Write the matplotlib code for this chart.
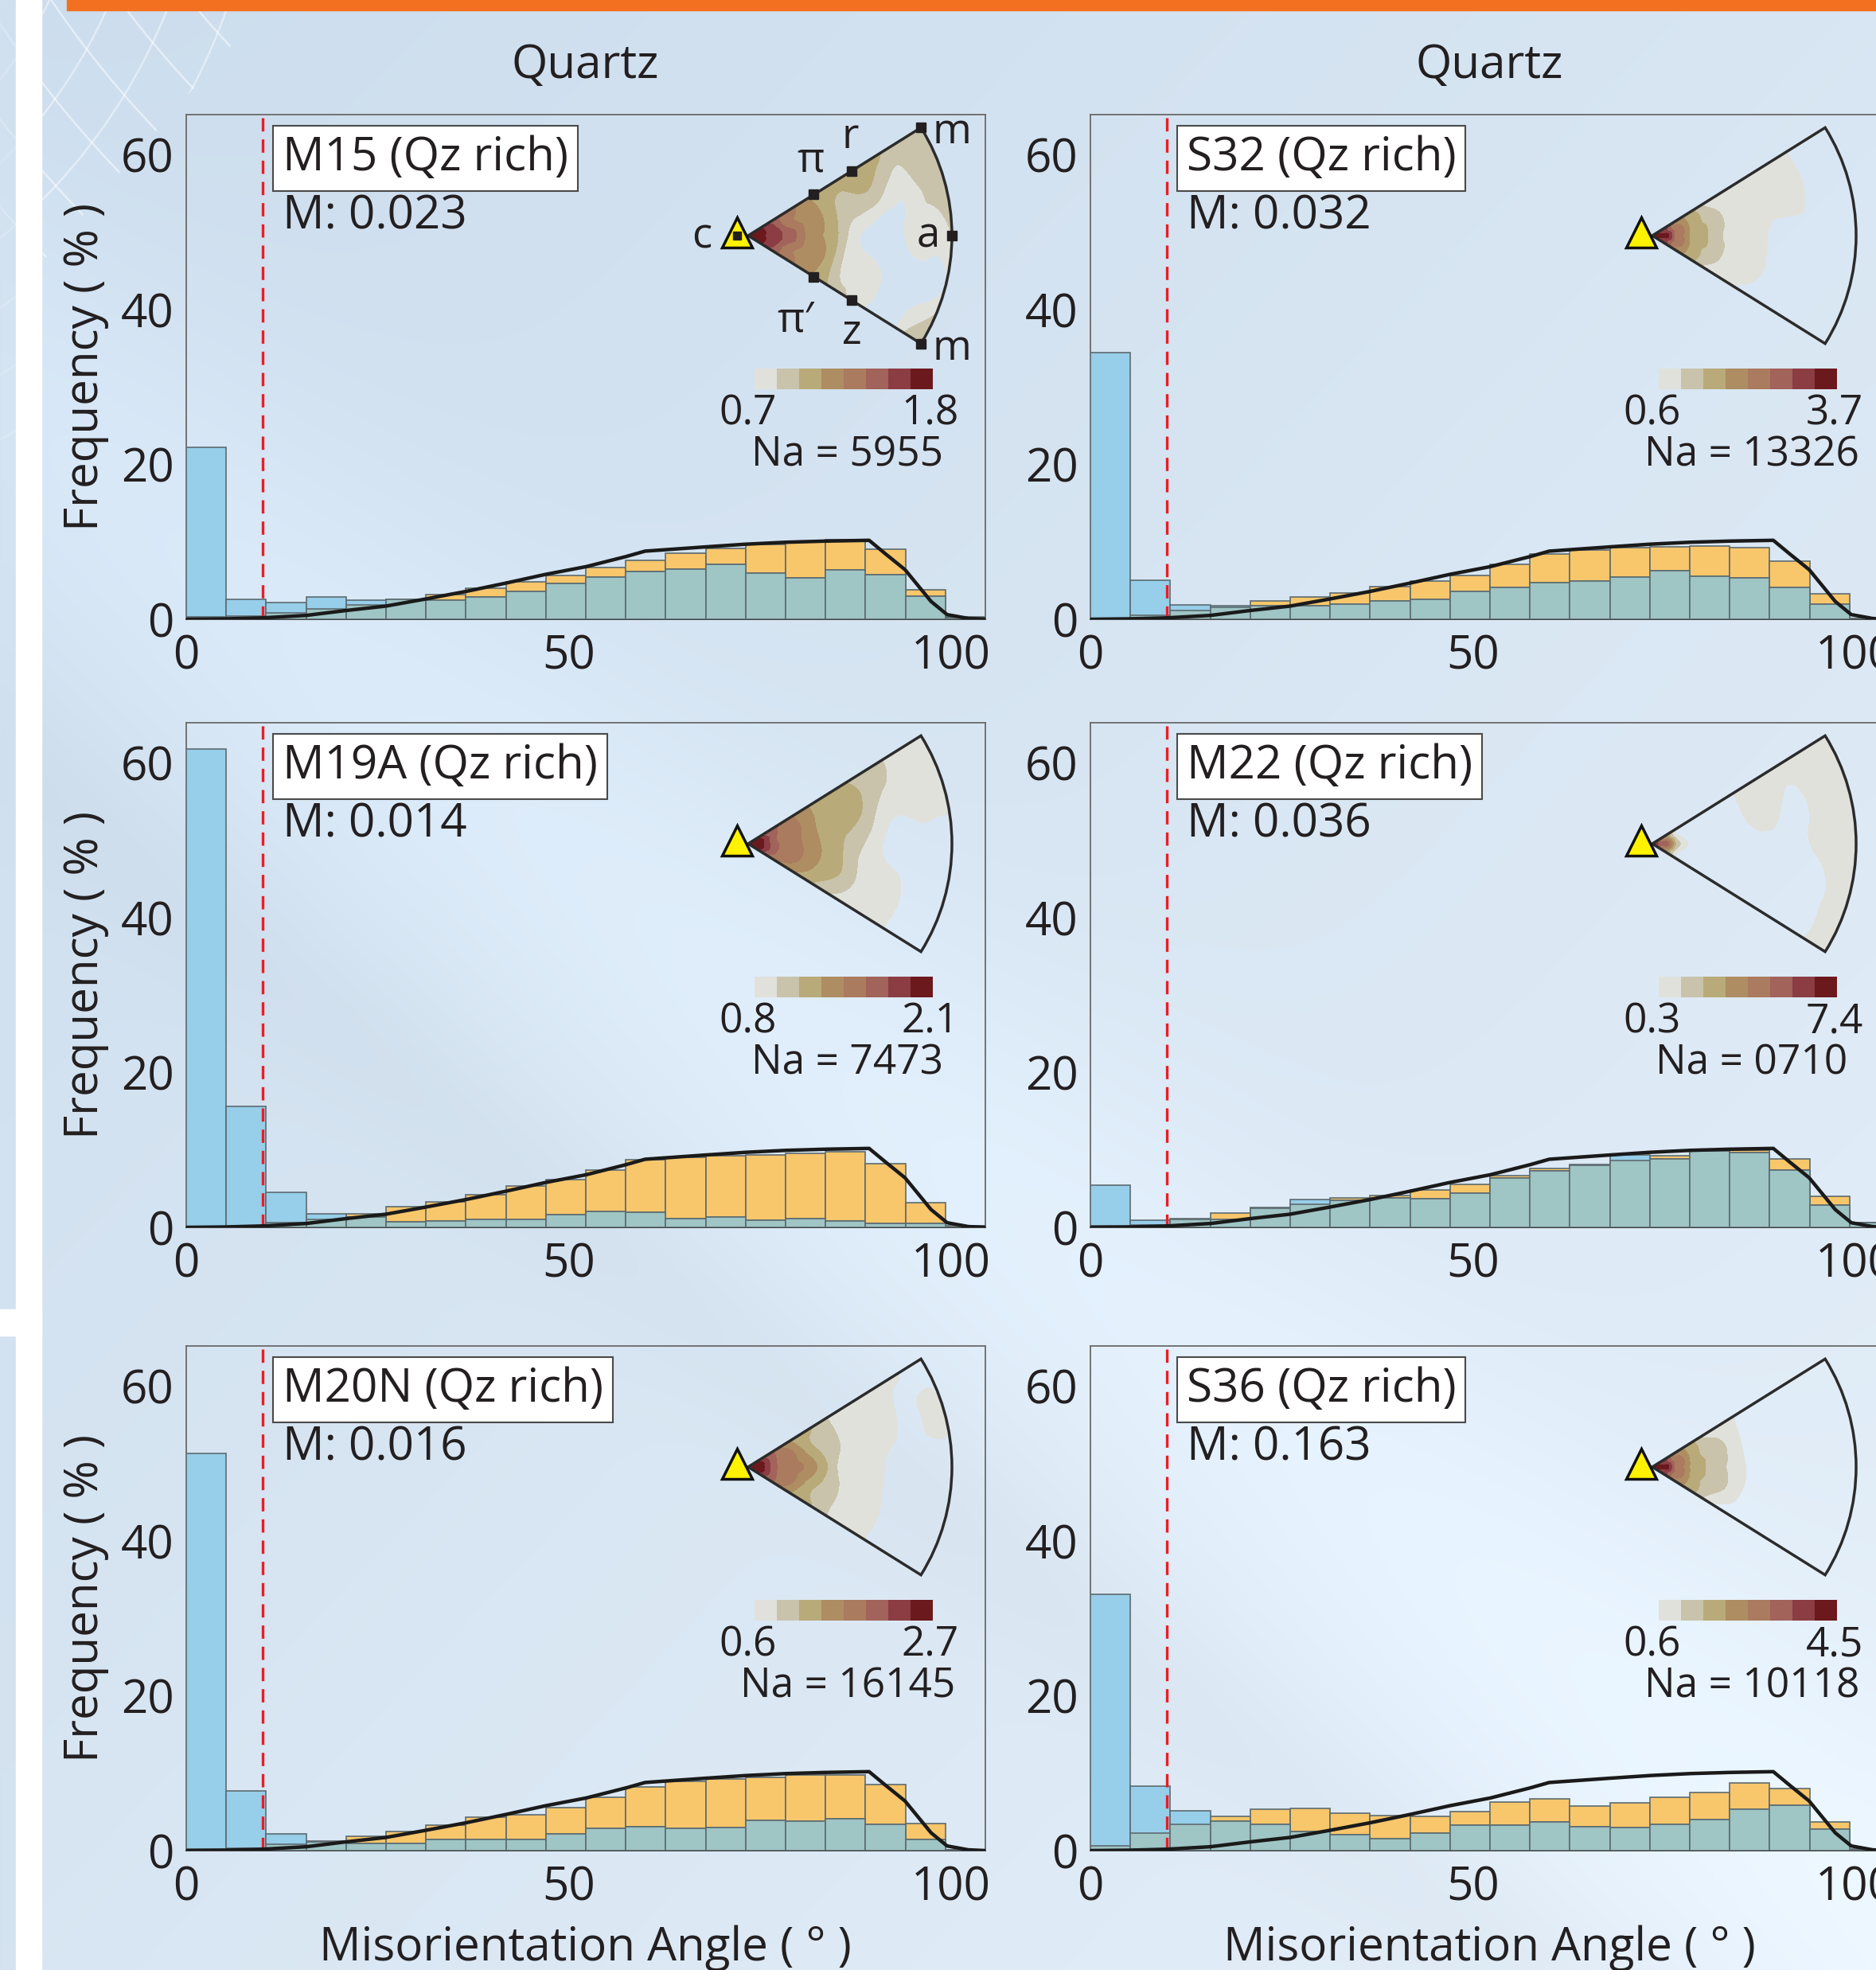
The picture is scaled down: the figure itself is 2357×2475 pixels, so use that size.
import numpy as np
import matplotlib
matplotlib.use('Agg')
import matplotlib.pyplot as plt
import matplotlib.tri as mtri
from matplotlib.patches import Wedge, Rectangle, Polygon
from matplotlib.colors import ListedColormap

plt.rcParams['font.family'] = ['Open Sans', 'DejaVu Sans']

W, H = 2357, 2475

# ---- data ----
n_bins = 20
x_max = 104.5

samples = ['M15 (Qz rich)', 'S32 (Qz rich)', 'M19A (Qz rich)',
           'M22 (Qz rich)', 'M20N (Qz rich)', 'S36 (Qz rich)']
m_index = ['M: 0.023', 'M: 0.032', 'M: 0.014', 'M: 0.036', 'M: 0.016', 'M: 0.163']
cbar_min = ['0.7', '0.6', '0.8', '0.3', '0.6', '0.6']
cbar_max = ['1.8', '3.7', '2.1', '7.4', '2.7', '4.5']
na_text = ['Na = 5955', 'Na = 13326', 'Na = 7473', 'Na = 0710', 'Na = 16145', 'Na = 10118']

# correlated (neighbour) misorientation, % per bin
corr = [
    [22.2, 2.6, 2.2, 2.9, 2.5, 2.6, 2.5, 2.9, 3.6, 4.6, 5.45, 6.2, 6.5, 7.05, 6.0, 5.3, 6.4, 5.75, 2.95, 0.2],
    [34.4, 5.0, 1.85, 1.7, 1.7, 1.7, 1.95, 2.35, 2.55, 3.65, 4.1, 4.75, 4.95, 5.5, 6.25, 5.6, 5.3, 4.1, 2.0, 0.1],
    [61.8, 15.6, 4.5, 1.7, 1.3, 0.7, 0.8, 1.0, 1.0, 1.6, 2.05, 2.0, 1.1, 1.35, 0.9, 1.1, 0.85, 0.5, 0.5, 0.05],
    [5.5, 0.9, 1.1, 1.0, 2.55, 3.6, 3.5, 3.85, 3.75, 4.45, 6.35, 7.35, 8.1, 9.4, 8.8, 9.85, 9.7, 7.45, 2.9, 0.6],
    [51.3, 7.7, 2.2, 1.25, 0.9, 0.9, 1.45, 1.4, 1.45, 2.2, 2.9, 3.1, 2.85, 2.95, 3.9, 3.85, 4.1, 3.35, 1.45, 0.1],
    [33.1, 8.3, 5.15, 3.8, 3.35, 2.45, 2.05, 1.5, 2.25, 3.25, 3.3, 3.75, 3.1, 3.0, 3.35, 4.05, 5.35, 5.9, 2.75, 0.1],
]
# uncorrelated (random pair) misorientation, % per bin
uncorr = [
    [0.3, 0.4, 0.8, 1.3, 1.9, 2.55, 3.15, 4.0, 4.8, 5.65, 6.7, 7.6, 8.5, 9.2, 9.7, 10.1, 10.3, 9.1, 3.8, 0.3],
    [0.15, 0.5, 1.1, 1.55, 2.4, 2.9, 3.4, 4.25, 4.9, 5.7, 7.05, 8.45, 8.9, 9.25, 9.35, 9.5, 9.25, 7.55, 3.3, 0.15],
    [0.05, 0.1, 0.6, 1.0, 1.7, 2.65, 3.25, 4.25, 5.3, 6.2, 7.4, 8.7, 9.1, 9.25, 9.4, 9.55, 9.75, 8.2, 3.15, 0.25],
    [0.2, 0.35, 1.0, 1.85, 2.45, 3.0, 3.85, 4.1, 4.8, 5.55, 6.65, 7.6, 8.05, 8.6, 9.3, 9.85, 10.0, 8.8, 4.0, 0.6],
    [0.2, 0.35, 0.8, 1.1, 1.8, 2.5, 3.25, 4.3, 4.65, 5.6, 6.9, 8.25, 8.9, 9.25, 9.45, 9.75, 9.8, 8.5, 3.45, 0.15],
    [0.6, 2.3, 3.35, 4.45, 5.3, 5.4, 4.8, 4.55, 4.4, 5.0, 6.25, 6.65, 5.75, 6.15, 6.9, 7.55, 8.75, 8.0, 3.7, 0.2],
]

# theoretical random (Mackenzie) curve for quartz
mack_x = [0, 5, 10, 15.7, 20.8, 26.1, 31.2, 36.6, 41.7, 47.0, 52.3, 57.5, 60.0, 67.9,
          73.2, 78.4, 83.6, 89.3, 91.5, 94.0, 97.4, 99.5, 102.3, 104.5]
mack_y = [0, 0.05, 0.18, 0.5, 1.12, 1.7, 2.6, 3.6, 4.65, 5.8, 6.8, 8.1, 8.8, 9.35,
          9.7, 9.95, 10.1, 10.2, 8.4, 6.4, 2.3, 0.6, 0.1, 0]

# inverse pole figures: contour class (0 = below lowest level, 8 = darkest)
# rows = distance from c (fraction of radius), cols = position across the sector (bottom edge -> top edge)
ipf_r = [0.0, 0.06, 0.12, 0.2, 0.3, 0.4, 0.5, 0.6, 0.7, 0.8, 0.9, 1.0]
ipf_phi = [-1, -0.5, 0, 0.5, 1]
ipf_class = [
    [[8, 8, 8, 8, 8], [8, 8, 8, 8, 8], [6, 7, 7, 7, 6], [5, 5, 6, 5, 5], [4, 4, 4, 4, 4], [3, 3, 3, 3, 3],
     [2, 1, 1, 2, 3], [1, 1, 0, 2, 3], [0, 0, 0, 1, 3], [0, 0, 1, 1, 2], [2, 0, 1, 2, 2], [3, 1, 2, 2, 2]],
    [[8, 8, 8, 8, 8], [7, 7, 8, 7, 7], [4, 5, 5, 5, 4], [3, 3, 3, 3, 3], [1, 2, 2, 2, 1], [1, 1, 1, 1, 1],
     [0, 1, 1, 1, 1], [0, 0, 0, 1, 1], [0, 0, 0, 1, 1], [0, 0, 0, 0, 0], [0, 0, 0, 0, 0], [0, 0, 0, 0, 0]],
    [[8, 8, 8, 8, 8], [7, 8, 8, 8, 7], [5, 6, 6, 6, 6], [4, 5, 5, 5, 5], [3, 4, 4, 4, 4], [2, 3, 3, 3, 3],
     [1, 2, 2, 3, 3], [1, 1, 1, 2, 2], [1, 1, 0, 1, 2], [0, 0, 0, 1, 1], [0, 0, 0, 1, 1], [0, 0, 0, 1, 1]],
    [[8, 8, 8, 8, 8], [4, 5, 6, 5, 4], [1, 1, 2, 1, 1], [0, 0, 0, 0, 0], [0, 0, 0, 0, 0], [0, 0, 0, 0, 0],
     [0, 0, 0, 1, 1], [0, 0, 0, 1, 1], [0, 0, 0, 0, 1], [0, 0, 1, 1, 1], [1, 1, 1, 1, 1], [1, 1, 1, 1, 1]],
    [[8, 8, 8, 8, 8], [7, 8, 8, 8, 7], [6, 6, 6, 6, 6], [4, 5, 5, 5, 4], [3, 3, 4, 3, 3], [2, 2, 2, 2, 2],
     [1, 1, 1, 1, 1], [1, 1, 1, 1, 1], [0, 0, 0, 1, 1], [0, 0, 0, 0, 1], [0, 0, 0, 1, 0], [0, 0, 0, 0, 0]],
    [[8, 8, 8, 8, 8], [7, 7, 8, 7, 7], [4, 5, 5, 5, 4], [3, 3, 3, 3, 3], [1, 2, 2, 2, 1], [0, 1, 1, 1, 1],
     [0, 0, 0, 0, 0], [0, 0, 0, 0, 0], [0, 0, 0, 0, 0], [0, 0, 0, 0, 0], [0, 0, 0, 0, 0], [0, 0, 0, 0, 0]],
]
ipf_colors = ['#e1e1dc', '#c9c3ab', '#b9aa79', '#ae8d63', '#aa7b5e', '#a1635a', '#8b3d43', '#6b191d']

# IPF reference directions shown on the first sector
ipf_dirs = ['π', 'r', 'm', 'a', 'π′', 'z', 'm']
ipf_dir_pos = [(0.38, 1), (0.6, 1), (1.0, 1), (1.0, 0), (0.38, -1), (0.6, -1), (1.0, -1)]
ipf_lab_off = [(78, 94), (128, 124), (256, 130), (226, -1), (60, -107), (130, -122), (256, -142)]

# ---- styling ----
c_blue = '#97cee9'
c_orange = '#f8c66b'
c_teal = '#9fc5c5'
c_edge = '#5d6b70'
col_left = [234, 1370]
row_top = [144, 908, 1691]
ax_w, ax_h = 1004, 634
fs = 42

fig = plt.figure(figsize=(W / 100, H / 100), dpi=100)

# background
bg = fig.add_axes([0, 0, 1, 1], zorder=-10)
yy, xx = np.mgrid[0:H:250j, 0:W:250j]
t = 0.5 * xx / W + 0.5 * yy / H
s = yy - 0.8 * xx
c0 = np.array([0.80, 0.866, 0.93])
c1 = np.array([0.895, 0.937, 0.975])
img = c0 + (c1 - c0) * t[..., None]
img = img + 0.035 * np.exp(-((s - 500) / 300.0) ** 2)[..., None]
img = img - 0.015 * np.exp(-((s - 950) / 120.0) ** 2)[..., None]
bg.imshow(np.clip(img, 0, 1), extent=(0, W, H, 0), aspect='auto', interpolation='bilinear')
bg.set_xlim(0, W)
bg.set_ylim(H, 0)
bg.axis('off')

# net ornament in top-left corner
clip = Polygon([(0, 0), (340, 0), (52, 330), (20, 590), (0, 610)], closed=True,
               transform=bg.transData, fc='none', ec='none')
bg.add_patch(clip)
ang = np.linspace(0, 2 * np.pi, 600)
for k in range(9):
    rad = 900 + 70 * k
    ln, = bg.plot(1100 + rad * np.cos(ang), -700 + rad * np.sin(ang), color='white', lw=1.8, alpha=0.5)
    ln.set_clip_path(clip)
    rad2 = 500 + 70 * k
    ln2, = bg.plot(-450 + rad2 * np.cos(ang), -250 + rad2 * np.sin(ang), color='white', lw=1.8, alpha=0.45)
    ln2.set_clip_path(clip)

bg.add_patch(Rectangle((0, 0), 20, H, color='#d3e2f0', alpha=0.6, zorder=2))
bg.add_patch(Rectangle((20, 0), 32, H, color='white', zorder=3))
bg.add_patch(Rectangle((0, 1645), 52, 33, color='white', zorder=3))
bg.add_patch(Rectangle((84, 0), W - 84, 13, color='#f37021', zorder=3))

edges = np.linspace(0, x_max, n_bins + 1)
bw = edges[1] - edges[0]

for k in range(6):
    row, col = divmod(k, 2)
    L, T = col_left[col], row_top[row]
    ax = fig.add_axes([L / W, 1 - (T + ax_h) / H, ax_w / W, ax_h / H])
    ax.patch.set_alpha(0)
    b = np.array(corr[k])
    o = np.array(uncorr[k])
    ax.bar(edges[:-1], o, width=bw, align='edge', color=c_orange, ec=c_edge, lw=1.2, zorder=2)
    ax.bar(edges[:-1], b, width=bw, align='edge', color=c_blue, ec=c_edge, lw=1.2, zorder=3)
    ax.bar(edges[:-1], np.minimum(b, o), width=bw, align='edge', color=c_teal, ec=c_edge, lw=1.2, zorder=4)
    ax.plot(mack_x, mack_y, color='#1a1a1a', lw=3.2, zorder=6)
    ax.axvline(10, color='#ec1c24', lw=2.4, dashes=(5, 3), zorder=5)
    ax.set_xlim(0, x_max)
    ax.set_ylim(0, 65.2)
    ax.set_xticks([0, 50, 100])
    ax.set_yticks([0, 20, 40, 60])
    ax.tick_params(length=0, labelsize=fs, colors='#231f20')
    ax.tick_params(axis='y', pad=11)
    ax.tick_params(axis='x', pad=13)
    for sp in ax.spines.values():
        sp.set_color('#6a6a6a')
        sp.set_linewidth(1.3)
    ax.spines['bottom'].set_color('#333333')

    ax.text(0.1205, 0.8896, samples[k], transform=ax.transAxes, fontsize=fs, color='#231f20',
            va='baseline', ha='left',
            bbox=dict(boxstyle='square,pad=0.2', fc='white', ec='#4a4a4a', lw=1.5), zorder=7)
    ax.text(0.1205, 0.773, m_index[k], transform=ax.transAxes, fontsize=fs, color='#231f20',
            va='baseline', ha='left', zorder=7)

    if col == 0:
        fig.text(108 / W, 1 - (T + ax_h / 2) / H, 'Frequency ( % )', rotation=90,
                 ha='center', va='center', fontsize=fs, color='#231f20')

    # inverse pole figure inset
    ax0, ay0 = L + 706, T + 152
    ins = fig.add_axes([(ax0 - 90) / W, 1 - (ay0 + 300) / H, 400 / W, 480 / H], zorder=5)
    R, half = 256, 32
    grid = np.array(ipf_class[k], dtype=float)
    px, py, pz = [0.0], [0.0], [grid[0, 2]]
    for i in range(1, len(ipf_r)):
        for j in range(len(ipf_phi)):
            a = np.deg2rad(ipf_phi[j] * half)
            px.append(ipf_r[i] * R * 1.03 * np.cos(a))
            py.append(ipf_r[i] * R * 1.03 * np.sin(a))
            pz.append(grid[i, j])
    tri = mtri.Triangulation(px, py)
    tri2, z2 = mtri.UniformTriRefiner(tri).refine_field(np.array(pz), subdiv=3)
    cs = ins.tricontourf(tri2, z2, levels=[0.5, 1.5, 2.5, 3.5, 4.5, 5.5, 6.5, 7.5, 100],
                         colors=ipf_colors)
    wclip = Wedge((0, 0), R, -half, half, transform=ins.transData)
    cs.set_clip_path(wclip)
    ins.add_patch(Wedge((0, 0), R, -half, half, fill=False, ec='#2b2b2b', lw=2.5, zorder=3))
    ins.plot(-14, 4, marker='^', ms=27, mfc='#fff200', mec='#111111', mew=2.5, zorder=5)

    if k == 0:
        ins.plot(-14, 0, 's', ms=7, color='#231f20', zorder=6)
        ins.text(-58, -2, 'c', fontsize=38, ha='center', va='center', color='#231f20')
        for name, (rf, ph), (lx, ly) in zip(ipf_dirs, ipf_dir_pos, ipf_lab_off):
            a = np.deg2rad(ph * half)
            ins.plot(rf * R * np.cos(a), rf * R * np.sin(a), 's', ms=8, color='#231f20', zorder=6)
            ins.text(lx, ly, name, fontsize=38, ha='center', va='center', color='#231f20', zorder=6)

    ins.imshow(np.arange(8).reshape(1, 8), cmap=ListedColormap(ipf_colors), extent=(8, 232, -193, -167),
               aspect='auto', interpolation='nearest')
    ins.text(0, -224, cbar_min[k], fontsize=37, ha='center', va='center', color='#231f20')
    ins.text(265, -224, cbar_max[k], fontsize=37, ha='right', va='center', color='#231f20')
    ins.text(125, -276, na_text[k], fontsize=37, ha='center', va='center', color='#231f20')
    ins.set_xlim(-90, 310)
    ins.set_ylim(-300, 180)
    ins.axis('off')

for col in range(2):
    xc = col_left[col] + 501
    fig.text(xc / W, 1 - 98 / H, 'Quartz', ha='center', va='baseline', fontsize=fs, color='#231f20')
    fig.text(xc / W, 1 - 2463 / H, 'Misorientation Angle ( ° )', ha='center', va='baseline',
             fontsize=fs, color='#231f20')

fig.savefig('out.png', dpi=100)
